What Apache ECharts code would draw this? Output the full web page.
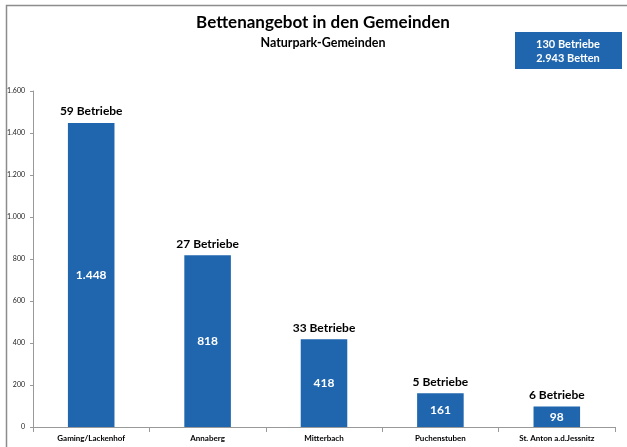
<!DOCTYPE html>
<html>
<head>
<meta charset="utf-8">
<script src="https://cdn.jsdelivr.net/npm/echarts@6/dist/echarts.min.js"></script>
<style>
  html, body { margin: 0; padding: 0; background: #fff; }
  #chart { width: 627px; height: 447px; }
</style>
</head>
<body>
<div id="chart"></div>
<script>
const categories = ['Gaming/Lackenhof', 'Annaberg', 'Mitterbach', 'Puchenstuben', 'St. Anton a.d.Jessnitz']
const betten = [1448, 818, 418, 161, 98]
const betriebe = [59, 27, 33, 5, 6]
const totalBetriebe = 130
const totalBetten = 2943

const BLUE = '#1f66ae'
const FONT = 'Lato, "Noto Sans", sans-serif'

function fmt(v) {
  return String(v).replace(/\B(?=(\d{3})+(?!\d))/g, '.')
}

const chart = echarts.init(document.getElementById('chart'))
chart.setOption({
  animation: false,
  textStyle: { fontFamily: FONT },
  title: {
    text: 'Bettenangebot in den Gemeinden',
    subtext: 'Naturpark-Gemeinden',
    left: 318, top: 9, textAlign: 'center', itemGap: 5,
    textStyle: { fontSize: 17, fontWeight: 'bold', color: '#000', fontFamily: FONT },
    subtextStyle: { fontSize: 12.5, fontWeight: 'bold', color: '#000', fontFamily: FONT },
  },
  graphic: [
    // outer frame: only left and top edges are visible in the picture
    {
      type: 'polyline', silent: true,
      shape: { points: [[6.5, 460], [6.5, 5.5], [640, 5.5]] },
      style: { fill: null, stroke: '#8c8c8c', lineWidth: 1.5 },
    },
    {
      type: 'rect', left: 515, top: 32,
      shape: { width: 107, height: 37 },
      style: { fill: BLUE },
    },
    {
      type: 'text', x: 568, y: 37,
      style: {
        text: totalBetriebe + ' Betriebe\n' + fmt(totalBetten) + ' Betten',
        fill: '#fff', font: 'bold 11px ' + FONT, align: 'center', verticalAlign: 'top', lineHeight: 14,
      },
    },
  ],
  grid: { left: 33, right: 12, top: 91, bottom: 20, containLabel: false },
  xAxis: {
    type: 'category',
    data: categories,
    axisLine: { lineStyle: { color: '#999' } },
    axisTick: { show: true, alignWithLabel: false, length: 5, lineStyle: { color: '#999' } },
    axisLabel: { color: '#000', fontSize: 8, fontWeight: 'bold', margin: 7, interval: 0 },
  },
  yAxis: {
    type: 'value',
    min: 0, max: 1600, interval: 200,
    axisLine: { show: true, lineStyle: { color: '#999' } },
    axisTick: { show: true, length: 3, lineStyle: { color: '#999' } },
    splitLine: { show: false },
    axisLabel: { color: '#222', fontSize: 7, margin: 8, formatter: fmt },
  },
  series: [
    {
      type: 'bar',
      data: betten,
      barWidth: '40%',
      itemStyle: { color: BLUE },
      label: {
        show: true, position: 'inside', color: '#fff',
        fontSize: 12, fontWeight: 'bold',
        formatter: (p) => fmt(p.value),
      },
    },
    {
      type: 'line',
      data: betten,
      symbol: 'circle',
      symbolSize: 1,
      showSymbol: true,
      itemStyle: { opacity: 0 },
      lineStyle: { opacity: 0 },
      silent: true,
      label: {
        show: true, position: 'top', distance: 5, color: '#000', opacity: 1,
        fontSize: 12, fontWeight: 'bold',
        formatter: (p) => betriebe[p.dataIndex] + ' Betriebe',
      },
    },
  ],
})
</script>
</body>
</html>
